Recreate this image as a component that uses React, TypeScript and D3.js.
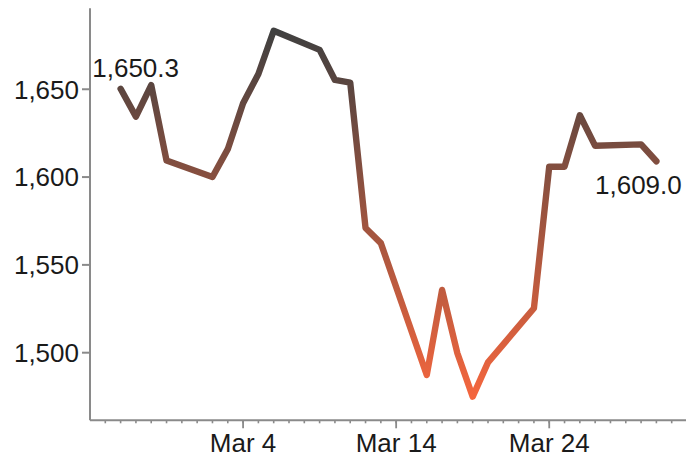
import React from "react";
import * as d3 from "d3";

const dates: string[] = [
  "2020-02-25", "2020-02-26", "2020-02-27", "2020-02-28",
  "2020-03-02", "2020-03-03", "2020-03-04", "2020-03-05", "2020-03-06",
  "2020-03-09", "2020-03-10", "2020-03-11", "2020-03-12", "2020-03-13",
  "2020-03-16", "2020-03-17", "2020-03-18", "2020-03-19", "2020-03-20",
  "2020-03-23", "2020-03-24", "2020-03-25", "2020-03-26", "2020-03-27",
  "2020-03-30", "2020-03-31",
];
const values: number[] = [
  1650.3, 1634.4, 1652.4, 1609.4,
  1600.0, 1615.9, 1642.0, 1658.7, 1683.3,
  1672.4, 1655.3, 1653.8, 1571.0, 1562.4,
  1487.3, 1535.7, 1499.7, 1475.0, 1494.5,
  1525.3, 1605.9, 1605.9, 1635.2, 1617.8,
  1618.6, 1609.0,
];
const yTicks: number[] = [1500, 1550, 1600, 1650];
const xMajorTicks: string[] = ["2020-03-04", "2020-03-14", "2020-03-24"];
const xDomain: string[] = ["2020-02-23", "2020-04-02"];
const yDomain: number[] = [1461.5, 1696.1];

const W = 686;
const H = 459;
const FONT = "'Liberation Sans', Arial, sans-serif";

const parse = d3.timeParse("%Y-%m-%d");

export default function App() {
  const data = dates.map((d, i) => ({ date: parse(d) as Date, value: values[i] }));
  const x = d3
    .scaleTime()
    .domain(xDomain.map((d) => parse(d) as Date))
    .range([90, 687]);
  const y = d3.scaleLinear().domain(yDomain).range([420.3, 8.3]);

  const line = d3
    .line<{ date: Date; value: number }>()
    .x((d) => x(d.date))
    .y((d) => y(d.value));

  const vMax = d3.max(values) as number;
  const vMin = d3.min(values) as number;
  const colorTop = "#404040";
  const colorBottom = "#f4663e";

  const minorTicks = d3.timeDay.range(
    d3.timeDay.offset(x.domain()[0], 1),
    x.domain()[1]
  );
  const fmtDate = d3.timeFormat("%b %-d");
  const fmtY = d3.format(",");
  const fmtV = d3.format(",.1f");

  const first = data[0];
  const last = data[data.length - 1];
  const axisColor = "#8a8a8a";
  const x0 = x.range()[0];
  const x1 = x.range()[1];
  const yBottom = y.range()[0];
  const yTop = y.range()[1];

  const txt = (px: number, py: number, anchor: string, s: string) => (
    <text x={px} y={py} textAnchor={anchor as any} fontFamily={FONT} fontSize={26} fill="#1a1a1a">
      {s}
    </text>
  );

  return (
    <svg
      width={W}
      height={H}
      style={{ position: "absolute", left: 0, top: 0, display: "block", background: "#fff" }}
    >
      <defs>
        <linearGradient id="lineGrad" gradientUnits="userSpaceOnUse" x1={0} x2={0} y1={y(vMax)} y2={y(vMin)}>
          <stop offset="0%" stopColor={colorTop} />
          <stop offset="100%" stopColor={colorBottom} />
        </linearGradient>
      </defs>
      {/* y axis */}
      <line x1={x0} x2={x0} y1={yTop} y2={yBottom} stroke={axisColor} strokeWidth={2} />
      {yTicks.map((t) => (
        <g key={"yt" + t}>
          <line x1={x0 - 8} x2={x0} y1={y(t)} y2={y(t)} stroke={axisColor} strokeWidth={2} />
          {txt(x0 - 11, y(t) + 9.3, "end", fmtY(t))}
        </g>
      ))}
      {/* x axis */}
      <line x1={x0} x2={x1} y1={yBottom} y2={yBottom} stroke={axisColor} strokeWidth={2} />
      {minorTicks.map((d, i) => (
        <line key={"mt" + i} x1={x(d)} x2={x(d)} y1={yBottom} y2={yBottom + 3} stroke={axisColor} strokeWidth={1.6} />
      ))}
      {xMajorTicks.map((s) => {
        const d = parse(s) as Date;
        return (
          <g key={"xt" + s}>
            <line x1={x(d)} x2={x(d)} y1={yBottom} y2={yBottom + 8} stroke={axisColor} strokeWidth={1.8} />
            {txt(x(d), 452, "middle", fmtDate(d))}
          </g>
        );
      })}
      {/* line */}
      <path
        d={line(data) || ""}
        fill="none"
        stroke="url(#lineGrad)"
        strokeWidth={6.4}
        strokeLinejoin="round"
        strokeLinecap="round"
      />
      {/* value labels */}
      {txt(x(first.date) + 15, y(first.value) - 11.5, "middle", fmtV(first.value))}
      {txt(x(last.date) - 18, y(last.value) + 33, "middle", fmtV(last.value))}
    </svg>
  );
}
